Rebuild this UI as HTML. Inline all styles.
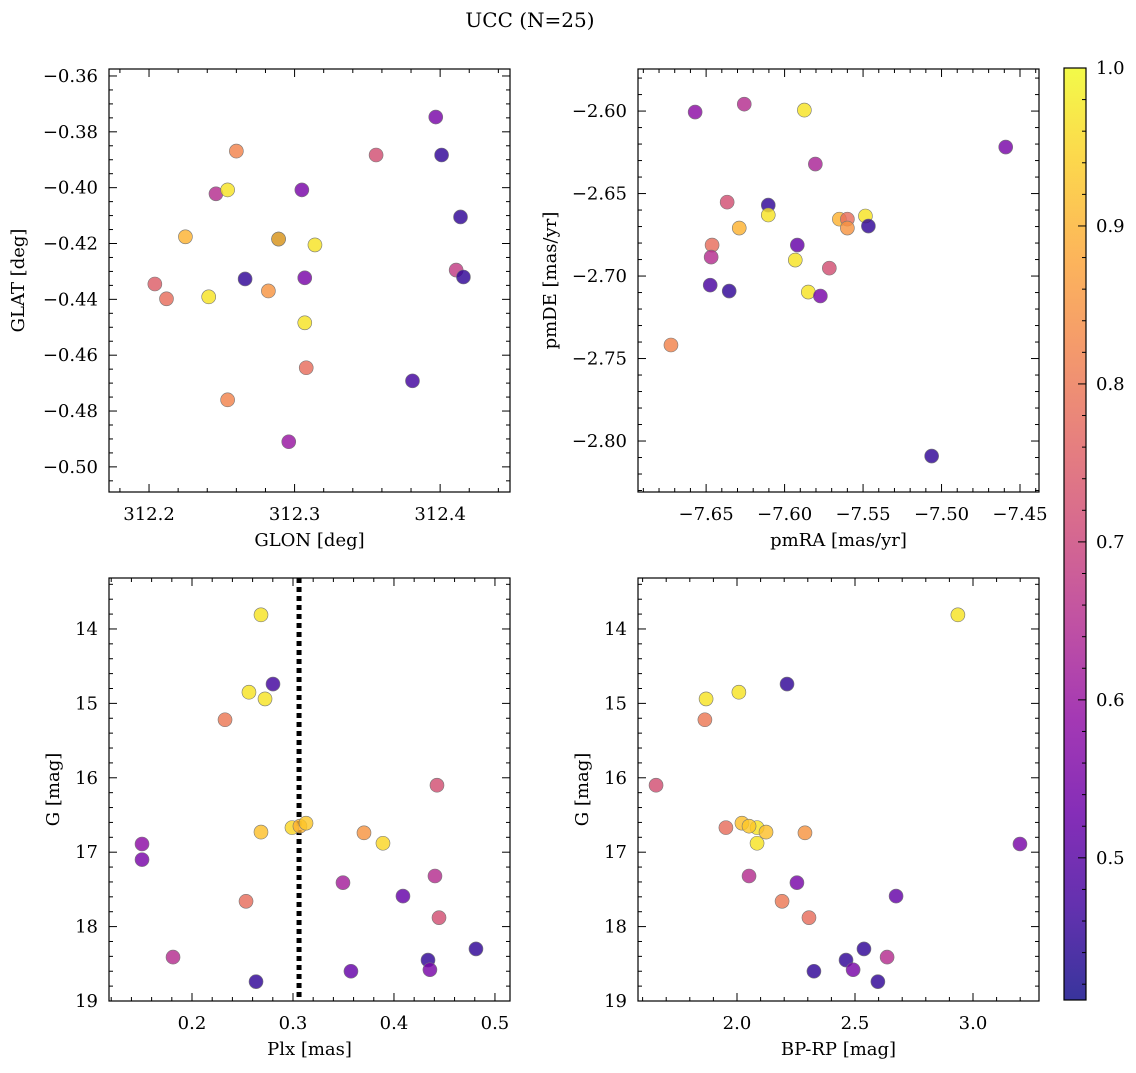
<!DOCTYPE html>
<html><head><meta charset="utf-8">
<style>
body{margin:0;background:#fff;}
svg text{font-family:"DejaVu Serif","Liberation Serif",serif;fill:#000;}
</style></head>
<body>
<svg id="fig" width="1136" height="1068" xmlns="http://www.w3.org/2000/svg">
<defs><linearGradient id="cbgrad" x1="0" y1="1" x2="0" y2="0"></linearGradient></defs>
<text x="530" y="27" font-size="20" text-anchor="middle">UCC (N=25)</text>
</svg>
<script>
// ---- data ----
const tlGlon=[312.397,312.401,312.356,312.260,312.246,312.254,312.305,312.414,312.225,312.289,312.314,312.266,312.204,312.307,312.411,312.416,312.282,312.212,312.241,312.307,312.308,312.381,312.254,312.296,312.289];
const tlGlat=[-0.3747,-0.3883,-0.3883,-0.3869,-0.4022,-0.4008,-0.4008,-0.4105,-0.4176,-0.4184,-0.4205,-0.4327,-0.4345,-0.4323,-0.4295,-0.4320,-0.4370,-0.4398,-0.4391,-0.4484,-0.4645,-0.4692,-0.4760,-0.4910,-0.4184];
const tlProb=[0.55,0.45,0.72,0.82,0.65,0.97,0.55,0.45,0.90,0.45,0.97,0.45,0.75,0.55,0.68,0.45,0.85,0.78,0.97,0.97,0.78,0.47,0.82,0.60,0.92];

const trPmra=[-7.657,-7.6257,-7.5874,-7.4591,-7.5804,-7.6104,-7.6366,-7.6104,-7.5651,-7.56,-7.5485,-7.5466,-7.6289,-7.56,-7.5919,-7.6462,-7.6468,-7.5932,-7.5715,-7.6474,-7.6353,-7.5849,-7.5772,-7.6724,-7.5063];
const trPmde=[-2.6006,-2.5958,-2.5994,-2.6218,-2.6321,-2.657,-2.6552,-2.663,-2.6655,-2.6655,-2.6636,-2.6697,-2.6709,-2.6709,-2.6812,-2.6812,-2.6885,-2.6903,-2.6952,-2.7055,-2.7091,-2.7097,-2.7121,-2.7418,-2.8091];
const trProb=[0.58,0.65,0.97,0.55,0.63,0.45,0.72,0.97,0.90,0.78,0.97,0.45,0.90,0.85,0.52,0.78,0.65,0.97,0.72,0.48,0.45,0.97,0.55,0.82,0.45];

const blPlx=[0.2683,0.2564,0.2802,0.2723,0.2327,0.4426,0.1505,0.1505,0.2683,0.299,0.3069,0.3129,0.3703,0.3891,0.3495,0.4406,0.4089,0.2535,0.4446,0.1812,0.4812,0.4337,0.4356,0.3574,0.2634];
const blG=[13.81,14.85,14.74,14.94,15.22,16.10,16.89,17.10,16.73,16.67,16.65,16.61,16.74,16.88,17.41,17.32,17.59,17.66,17.88,18.41,18.30,18.45,18.58,18.60,18.74];
const blProb=[0.97,0.97,0.47,0.97,0.80,0.72,0.58,0.55,0.92,0.95,0.90,0.93,0.85,0.95,0.62,0.65,0.52,0.78,0.72,0.65,0.45,0.45,0.55,0.52,0.45];
const plxLine=0.306;

const brBprp=[2.936,2.212,2.008,1.869,1.864,1.657,3.199,1.953,2.021,2.085,2.123,2.085,2.288,2.051,2.254,2.674,2.191,2.305,2.538,2.636,2.462,2.492,2.326,2.597,2.051];
const brG=[13.81,14.74,14.85,14.94,15.22,16.10,16.89,16.67,16.61,16.67,16.73,16.88,16.74,17.32,17.41,17.59,17.66,17.88,18.30,18.41,18.45,18.58,18.60,18.74,16.65];
const brProb=[0.97,0.45,0.97,0.97,0.80,0.72,0.55,0.78,0.92,0.97,0.92,0.97,0.85,0.65,0.55,0.52,0.80,0.78,0.45,0.65,0.45,0.55,0.45,0.45,0.93];

const cbMin=0.41, cbMax=1.0;
const cbTicks=[0.5,0.6,0.7,0.8,0.9,1.0];

// ---- helpers ----
const NS="http://www.w3.org/2000/svg";
const svg=document.getElementById('fig');
function mk(tag,attrs,parent){const e=document.createElementNS(NS,tag);for(const k in attrs)e.setAttribute(k,attrs[k]);(parent||svg).appendChild(e);return e;}
const plasma=[[13,8,135],[65,4,157],[106,0,168],[143,13,164],[177,42,144],[204,71,120],[225,100,98],[242,132,75],[252,166,54],[252,206,37],[240,249,33]];
function cmap(t){t=Math.max(0,Math.min(1,t));const s=t*10,i=Math.min(9,Math.floor(s)),f=s-i;const a=plasma[i],b=plasma[i+1];return `rgb(${Math.round(a[0]+(b[0]-a[0])*f)},${Math.round(a[1]+(b[1]-a[1])*f)},${Math.round(a[2]+(b[2]-a[2])*f)})`;}
function fmt(v,dec){let s=v.toFixed(dec);if(Math.abs(v)<1e-9)s=(0).toFixed(dec);return s.replace('-','\u2212');}
const FS=18;

function panel(o){
  const g=mk('g',{});
  
  
  const X=v=>o.x0+(v-o.xmin)/(o.xmax-o.xmin)*(o.x1-o.x0);
  const Y=o.invert? v=>o.y0+(v-o.ymin)/(o.ymax-o.ymin)*(o.y1-o.y0) : v=>o.y1-(v-o.ymin)/(o.ymax-o.ymin)*(o.y1-o.y0);
  function ticks(min,max,step,minorDiv,isX,dec){
    const ms=step/minorDiv;
    for(let k=Math.ceil(min/ms-1e-6);k*ms<=max+1e-9;k++){
      const v=k*ms;const major=Math.abs(v/step-Math.round(v/step))<1e-6;const L=major?8:4;
      if(isX){const p=X(v);
        mk('line',{x1:p,x2:p,y1:o.y1,y2:o.y1-L,stroke:'#000','stroke-width':1},g);
        mk('line',{x1:p,x2:p,y1:o.y0,y2:o.y0+L,stroke:'#000','stroke-width':1},g);
        if(major){const t=mk('text',{x:p,y:o.y1+28,'font-size':FS,'text-anchor':'middle'},g);t.textContent=fmt(v,dec);
          }
      } else {const p=Y(v);
        mk('line',{y1:p,y2:p,x1:o.x0,x2:o.x0+L,stroke:'#000','stroke-width':1},g);
        mk('line',{y1:p,y2:p,x1:o.x1,x2:o.x1-L,stroke:'#000','stroke-width':1},g);
        if(major){const t=mk('text',{x:o.x0-11,y:p+6,'font-size':FS,'text-anchor':'end'},g);t.textContent=fmt(v,dec);
          }
      }
    }
  }
  ticks(o.xmin,o.xmax,o.xstep,o.xdiv,true,o.xdec);
  ticks(o.ymin,o.ymax,o.ystep,o.ydiv,false,o.ydec);
  if(o.vline!==undefined){const l=mk('line',{x1:X(o.vline),x2:X(o.vline),y1:o.y0,y2:o.y1,stroke:'#000','stroke-width':5,'stroke-dasharray':'5,4'},g);
    }
  for(let i=0;i<o.xs.length;i++){
    const c=mk('circle',{cx:X(o.xs[i]),cy:Y(o.ys[i]),r:7,fill:cmap((o.cs[i]-cbMin)/(cbMax-cbMin)),'fill-opacity':0.82,stroke:'#777','stroke-width':0.6},g);
    
    
  }
  const fr=mk('rect',{x:o.x0,y:o.y0,width:o.x1-o.x0,height:o.y1-o.y0,fill:'none',stroke:'#000','stroke-width':1.2},g);
  
  const xl=mk('text',{x:(o.x0+o.x1)/2,y:o.y1+54,'font-size':FS,'text-anchor':'middle'},g);xl.textContent=o.xlabel;
  
  const yx=o.x0-o.ylabOff,yy=(o.y0+o.y1)/2;
  const yl=mk('text',{x:yx,y:yy,'font-size':FS,'text-anchor':'middle',transform:`rotate(-90 ${yx} ${yy})`},g);yl.textContent=o.ylabel;
  
}

panel({name:'glon-glat-panel',x0:109,x1:510,y0:69,y1:492,xmin:312.1725,xmax:312.448,ymin:-0.509,ymax:-0.3575,xstep:0.1,xdiv:5,ystep:0.02,ydiv:4,xdec:1,ydec:2,xs:tlGlon,ys:tlGlat,cs:tlProb,xlabel:'GLON [deg]',ylabel:'GLAT [deg]',ylabOff:85});
panel({name:'proper-motion-panel',x0:638,x1:1039,y0:69,y1:492,xmin:-7.6934,xmax:-7.4379,ymin:-2.8309,ymax:-2.5745,xstep:0.05,xdiv:5,ystep:0.05,ydiv:5,xdec:2,ydec:2,xs:trPmra,ys:trPmde,cs:trProb,xlabel:'pmRA [mas/yr]',ylabel:'pmDE [mas/yr]',ylabOff:82});
panel({name:'plx-g-panel',x0:109,x1:510,y0:578,y1:1001,xmin:0.1178,xmax:0.5149,ymin:13.315,ymax:19,invert:true,xstep:0.1,xdiv:5,ystep:1,ydiv:5,xdec:1,ydec:0,xs:blPlx,ys:blG,cs:blProb,xlabel:'Plx [mas]',ylabel:'G [mag]',ylabOff:50,vline:plxLine});
panel({name:'cmd-panel',x0:638,x1:1039,y0:578,y1:1001,xmin:1.5805,xmax:3.2797,ymin:13.315,ymax:19,invert:true,xstep:0.5,xdiv:5,ystep:1,ydiv:5,xdec:1,ydec:0,xs:brBprp,ys:brG,cs:brProb,xlabel:'BP-RP [mag]',ylabel:'G [mag]',ylabOff:50});

// colorbar
const grad=document.getElementById('cbgrad');
for(let i=0;i<=10;i++){mk('stop',{offset:(i/10),'stop-color':cmap(i/10),'stop-opacity':0.82},grad);}
const cb=mk('g',{});


const cx0=1064,cx1=1086,cy0=68,cy1=1000;
mk('rect',{x:cx0,y:cy0,width:cx1-cx0,height:cy1-cy0,fill:'url(#cbgrad)',stroke:'#000','stroke-width':1.2},cb);
const CY=v=>cy1-(v-cbMin)/(cbMax-cbMin)*(cy1-cy0);
for(let k=Math.ceil(cbMin/0.02);k*0.02<=cbMax+1e-9;k++){
  const v=k*0.02;const major=Math.abs(v*10-Math.round(v*10))<1e-6;const p=CY(v);
  mk('line',{x1:cx1,x2:cx1-(major?8:4),y1:p,y2:p,stroke:'#000','stroke-width':1},cb);
}
cbTicks.forEach(v=>{const t=mk('text',{x:cx1+10,y:CY(v)+6,'font-size':FS},cb);t.textContent=v.toFixed(1);
  });
</script>
</body></html>
